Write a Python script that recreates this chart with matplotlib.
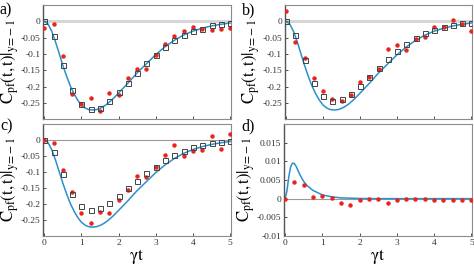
import numpy as np
import matplotlib
matplotlib.use('Agg')
import matplotlib.pyplot as plt

plt.rcParams['font.family'] = ['Liberation Serif', 'DejaVu Serif']
plt.rcParams['mathtext.fontset'] = 'stix'

# sample times of the data points
t_pts = [0, 0.25, 0.5, 0.75, 1.0, 1.25, 1.5, 1.75, 2.0, 2.25, 2.5,
         2.75, 3.0, 3.25, 3.5, 3.75, 4.0, 4.25, 4.5, 4.75, 5.0]

# theory curve (panels a, b, c)
t_curve = [0, 0.1, 0.2, 0.3, 0.4, 0.5, 0.6, 0.7, 0.8, 0.9, 1.0, 1.1, 1.2,
           1.3, 1.4, 1.5, 1.6, 1.7, 1.8, 1.9, 2.0, 2.25, 2.5, 2.75, 3.0,
           3.25, 3.5, 3.75, 4.0, 4.25, 4.5, 4.75, 5.0]
c_curve = [0, -0.008, -0.03, -0.062, -0.098, -0.135, -0.168, -0.198, -0.222,
           -0.242, -0.257, -0.266, -0.271, -0.272, -0.271, -0.267, -0.261,
           -0.253, -0.243, -0.232, -0.22, -0.19, -0.158, -0.13, -0.102,
           -0.078, -0.058, -0.042, -0.03, -0.021, -0.014, -0.009, -0.005]

# panel d theory curve
t_curve_d = [0, 0.05, 0.1, 0.15, 0.2, 0.25, 0.3, 0.4, 0.5, 0.6, 0.75, 1.0,
             1.25, 1.5, 2.0, 2.5, 3.0, 4.0, 5.0]
c_curve_d = [0, 0.002, 0.0058, 0.0085, 0.0095, 0.0094, 0.0086, 0.0064,
             0.0046, 0.0034, 0.0022, 0.001, 0.0005, 0.0002, 0.00005, 0.0,
             0.0, 0.0, 0.0]

red_a = [-0.02, -0.008, -0.107, -0.222, -0.255, -0.235, -0.274, -0.219,
         -0.226, -0.173, -0.146, -0.146, -0.102, -0.07, -0.045, -0.03,
         -0.017, -0.022, -0.027, -0.023, -0.021]
sq_a = [0, -0.046, -0.135, -0.21, -0.255, -0.27, -0.266, -0.246, -0.218,
        -0.189, -0.157, -0.128, -0.102, -0.079, -0.058, -0.041, -0.03,
        -0.022, -0.012, -0.007, -0.004]

red_b = [0.031, -0.064, -0.111, -0.175, -0.214, -0.238, -0.246, -0.227,
         -0.187, -0.172, -0.146, -0.086, -0.074, -0.087, -0.055, -0.049,
         -0.016, -0.016, 0.003, -0.008, -0.031]
sq_b = [0, -0.041, -0.12, -0.188, -0.229, -0.243, -0.239, -0.222, -0.197,
        -0.17, -0.142, -0.115, -0.092, -0.07, -0.052, -0.037, -0.026,
        -0.016, -0.01, -0.006, -0.004]

red_c = [0, -0.01, -0.094, -0.162, -0.228, -0.258, -0.224, -0.227, -0.188,
         -0.156, -0.113, -0.115, -0.083, -0.048, -0.017, -0.049, -0.035,
         -0.031, 0.011, -0.027, 0.017]
sq_c = [0, -0.038, -0.107, -0.168, -0.207, -0.218, -0.214, -0.198, -0.176,
        -0.15, -0.128, -0.104, -0.083, -0.063, -0.048, -0.035, -0.023,
        -0.017, -0.01, -0.007, -0.004]

red_d = [0, 0.0044, 0.0036, 0.0004, 0.0006, 0.0003, -0.0012, -0.0018,
         -0.0004, 0, 0, -0.0011, -0.0004, 0, 0, 0, -0.0004, -0.0004,
         -0.0004, -0.0004, -0.0004]

yticks_abc = [0, -0.05, -0.1, -0.15, -0.2, -0.25]
yticklabels_abc = ['0', '-0.05', '-0.1', '-0.15', '-0.2', '-0.25']
yticks_d = [0.015, 0.01, 0.005, 0, -0.005, -0.01]
yticklabels_d = ['0.015', '0.01', '0.005', '0', '-0.005', '-0.01']
xticks = [0, 1, 2, 3, 4, 5]

BLUE = '#2b90cc'
RED = '#e8241c'
YLABEL = r'$\mathrm{C_{pf}(t,t)|_{y\!=\!-1}}$'


def style_axes(ax, show_x):
    for s in ax.spines.values():
        s.set_color('#8c8c8c')
        s.set_linewidth(0.8)
    ax.spines['left'].set_color('#555555')
    ax.spines['left'].set_linewidth(1.0)
    ax.tick_params(direction='in', length=2, width=0.6, labelsize=6.8,
                   colors='#333333', pad=2)
    ax.set_xticks(xticks)
    ax.set_xlim(-0.03, 5.02)
    if show_x:
        ax.set_xticklabels([str(v) for v in xticks])
        ax.set_xlabel(r'$\mathrm{\gamma t}$', fontsize=12.5, labelpad=0)
    else:
        ax.set_xticklabels([])
    ax.set_ylabel(YLABEL, fontsize=12, labelpad=0)


def panel(ax, red, sq, show_x, thick_zero):
    if thick_zero:
        ax.axhline(0, color='#d6d6d6', lw=2.2, zorder=1)
    else:
        ax.axhline(0, color='#9a9a9a', lw=0.8, zorder=1)
    ax.plot(t_curve, c_curve, color=BLUE, lw=1.1, zorder=2)
    ax.plot(t_pts, red, 'o', color=RED, ms=3.2, mec='none', zorder=3)
    if sq is not None:
        ax.plot(t_pts, sq, 's', mfc='none', mec='#444444', mew=0.7, ms=3.6,
                zorder=4)
    ax.set_ylim(-0.3, 0.05)
    ax.set_yticks(yticks_abc)
    ax.set_yticklabels(yticklabels_abc)
    style_axes(ax, show_x)


fig = plt.figure(figsize=(4.74, 2.67), dpi=100)
ax_a = fig.add_axes([0.091, 0.554, 0.396, 0.427])
ax_b = fig.add_axes([0.601, 0.554, 0.395, 0.427])
ax_c = fig.add_axes([0.091, 0.116, 0.396, 0.42])
ax_d = fig.add_axes([0.599, 0.116, 0.397, 0.42])

panel(ax_a, red_a, sq_a, False, True)
panel(ax_b, red_b, sq_b, False, True)
panel(ax_c, red_c, sq_c, True, False)

ax_d.axhline(0, color='#9a9a9a', lw=0.8, zorder=1)
ax_d.plot(t_curve_d, c_curve_d, color=BLUE, lw=1.1, zorder=2)
ax_d.plot(t_pts, red_d, 'o', color=RED, ms=3.2, mec='none', zorder=3)
ax_d.set_ylim(-0.01, 0.02)
ax_d.set_yticks(yticks_d)
ax_d.set_yticklabels(yticklabels_d)
style_axes(ax_d, True)

for lab, x, y in [('a)', 0.0, 0.99), ('b)', 0.51, 0.99),
                  ('c)', 0.0, 0.556), ('d)', 0.51, 0.556)]:
    fig.text(x, y, lab, fontsize=11.5, va='top', ha='left')

fig.savefig('out.png', dpi=100)
